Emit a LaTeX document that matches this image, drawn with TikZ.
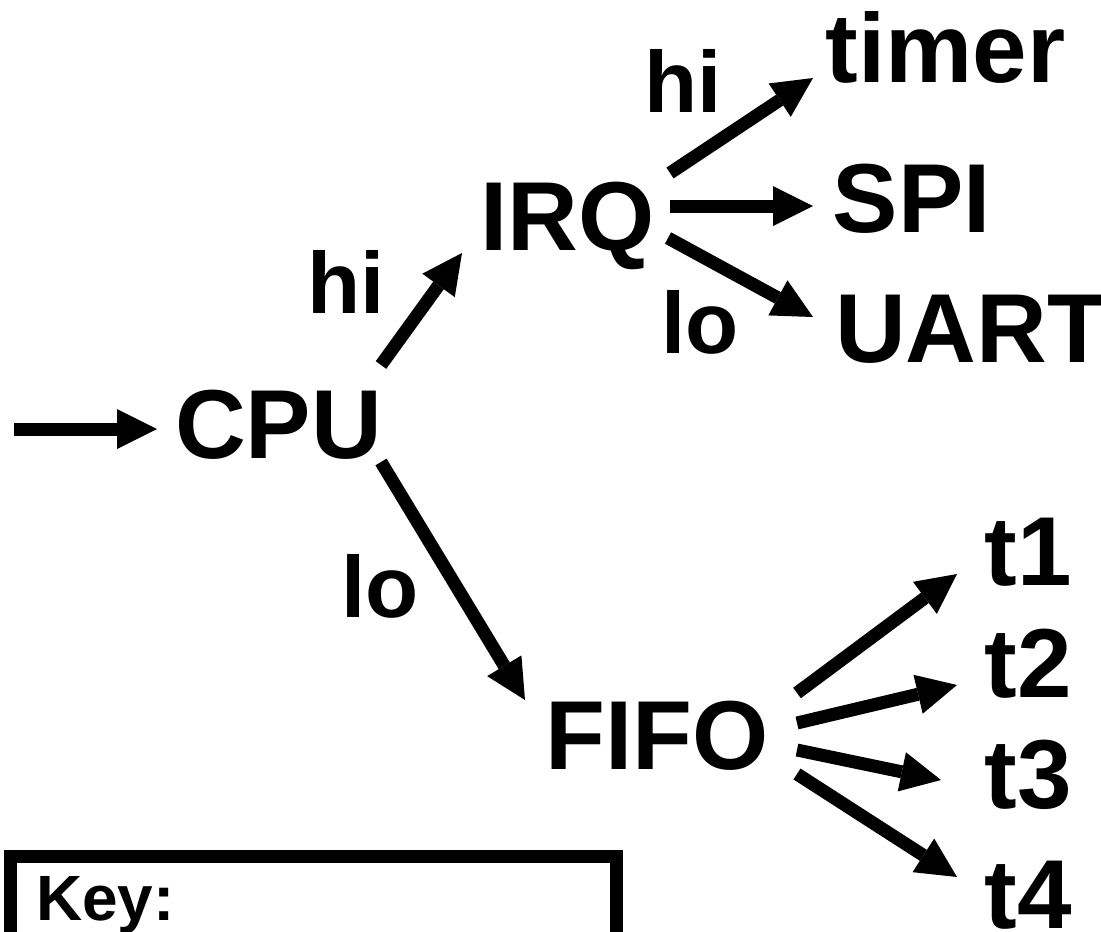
\documentclass[tikz,border=0pt]{standalone}
\usepackage{fontspec}
\setmainfont{Liberation Sans}
\usetikzlibrary{arrows.meta}
\begin{document}
\begin{tikzpicture}[x=1pt,y=-1pt,
  nlbl/.style={font=\fontsize{98}{98}\selectfont\bfseries, inner sep=0pt, anchor=base west},
  elbl/.style={font=\fontsize{87}{87}\selectfont\bfseries, inner sep=0pt, anchor=base west},
  arr/.style={line width=13pt, -{Triangle[length=40pt,width=40pt,line width=0pt]}}]
\useasboundingbox (0,0) rectangle (1101,932);
% nodes
\node[nlbl] (cpu)   at (175,458)   {CPU};
\node[nlbl] (irq)   at (480,250)   {IRQ};
\node[nlbl] (timer) at (825.5,82)  {timer};
\node[nlbl] (spi)   at (832.5,232) {SPI};
\node[nlbl] (uart)  at (835,362)   {UART};
\node[nlbl] (fifo)  at (545,769)   {FIFO};
\node[nlbl] (t1)    at (984.5,585) {t1};
\node[nlbl] (t2)    at (984.5,697) {t2};
\node[nlbl] (t3)    at (984.5,808) {t3};
\node[nlbl] (t4)    at (984.5,928) {t4};
% edge labels
\node[elbl] (hiA) at (307,313) {hi};
\node[elbl] (loA) at (341,617) {lo};
\node[elbl] (hiB) at (644,112) {hi};
\node[elbl] (loB) at (661,353) {lo};
% key box
\node[draw, line width=13pt, inner sep=0pt, minimum width=606pt, minimum height=200pt, anchor=north west] (keybox) at (3.5,849.5) {};
\node[font=\fontsize{64}{64}\selectfont\bfseries, inner sep=0pt, anchor=base west] (key) at (36,920) {Key:};
% connectors
\coordinate (start) at (14,429);
\draw[arr] (start) -- ([shift={(-18,-29)}]cpu.base west);
\draw[arr] ([shift={(206,-93)}]cpu.base west) -- ([shift={(-18,3)}]irq.base west);
\draw[arr] ([shift={(206,4)}]cpu.base west) -- ([shift={(-20,-69)}]fifo.base west);
\draw[arr] ([shift={(190,-77)}]irq.base west) -- ([shift={(-12.5,-4)}]timer.base west);
\draw[arr] ([shift={(190,-44)}]irq.base west) -- ([shift={(-19.5,-26)}]spi.base west);
\draw[arr] ([shift={(188,-12)}]irq.base west) -- ([shift={(-22,-45)}]uart.base west);
\draw[arr] ([shift={(252,-76)}]fifo.base west) -- ([shift={(-27.5,-11)}]t1.base west);
\draw[arr] ([shift={(252,-46)}]fifo.base west) -- ([shift={(-27.5,-12)}]t2.base west);
\draw[arr] ([shift={(252,-19)}]fifo.base west) -- ([shift={(-43.5,-28)}]t3.base west);
\draw[arr] ([shift={(252,5)}]fifo.base west) -- ([shift={(-27.5,-51)}]t4.base west);
\end{tikzpicture}
\end{document}
